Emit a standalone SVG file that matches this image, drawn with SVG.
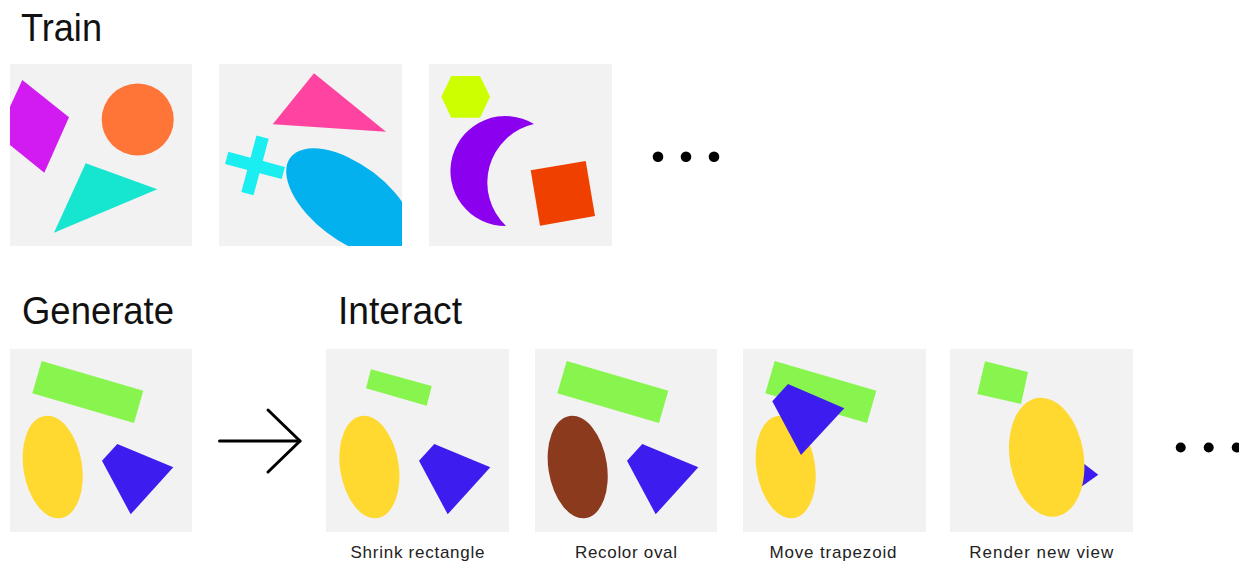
<svg xmlns="http://www.w3.org/2000/svg" width="1239" height="562" viewBox="0 0 1239 562">
<style>
.bg{fill:#F2F2F2}
.title{font-family:"Liberation Sans",Arial,sans-serif;font-size:38px;fill:#111}
.lbl{font-family:"Liberation Sans",Arial,sans-serif;font-size:17px;fill:#222;text-anchor:middle}
.green{fill:#88F54F}
.yellow{fill:#FFD830}
.blue{fill:#3D1CF0}
.dot{fill:#000}
</style>
<defs>
<clipPath id="c2"><rect x="219" y="64" width="183" height="182"/></clipPath>
<clipPath id="c1"><rect x="10" y="64" width="182" height="182"/></clipPath>
</defs>
<rect width="1239" height="562" fill="#fff"/>

<text class="title" x="21" y="41" textLength="81" lengthAdjust="spacingAndGlyphs">Train</text>
<text class="title" x="22" y="323.5" textLength="152" lengthAdjust="spacingAndGlyphs">Generate</text>
<text class="title" x="338" y="323.5" textLength="124" lengthAdjust="spacingAndGlyphs">Interact</text>

<g id="train1">
<rect class="bg" x="10" y="64" width="182" height="182"/>
<g clip-path="url(#c1)">
<polygon points="22.3,80 69,117.3 44.3,172.7 10,145 10,106.7" fill="#D21BF0"/>
<circle cx="137.7" cy="119.5" r="36" fill="#FF7538"/>
<polygon points="85.7,163.3 157.3,189.3 54,232.7" fill="#16E6D0"/>
</g>
</g>

<g id="train2">
<rect class="bg" x="219" y="64" width="183" height="182"/>
<g clip-path="url(#c2)">
<polygon points="314,73.3 386,131.7 272.7,124.3" fill="#FF43A1"/>
<g transform="translate(255,165.4) rotate(15)" fill="#1AEEF0">
<rect x="-6.3" y="-29.3" width="12.6" height="58.6"/>
<rect x="-29.3" y="-6.3" width="58.6" height="12.6"/>
</g>
<ellipse cx="350.3" cy="202.7" rx="75" ry="38" transform="rotate(37 350.3 202.7)" fill="#03B1EE"/>
</g>
</g>

<g id="train3">
<rect class="bg" x="429" y="64" width="183" height="182"/>
<polygon points="451.3,76 480,76 490,96.7 480,117.7 451.3,117.7 441.3,96.7" fill="#CCFF00"/>
<path d="M534,124 A55,55 0 1 0 506,226 A60,60 0 0 1 534,124 Z" fill="#8B00EE"/>
<polygon points="530.7,170.3 585.7,161 595,216 540,225.7" fill="#F04000"/>
</g>

<g id="trainDots">
<circle class="dot" cx="658" cy="156.7" r="5.3"/>
<circle class="dot" cx="686" cy="156.7" r="5.3"/>
<circle class="dot" cx="714" cy="156.7" r="5.3"/>
</g>

<g id="generate">
<rect class="bg" x="10" y="349" width="182" height="183"/>
<polygon class="green" points="41.7,361 143.3,390.7 134,423 32.3,393.3"/>
<ellipse class="yellow" cx="52.7" cy="467" rx="29.3" ry="51.7" transform="rotate(-9 52.7 467)"/>
<polygon class="blue" points="117.3,444 173.3,467.3 130.7,514.3 102,460.7"/>
</g>

<g id="connectors" fill="none" stroke="#000" stroke-width="3" stroke-linecap="round" stroke-linejoin="round">
<line x1="219.5" y1="441" x2="300" y2="441"/>
<polyline points="268,410 300,441 268,472"/>
</g>

<g id="shrink">
<rect class="bg" x="326" y="349" width="183" height="183"/>
<polygon class="green" points="371,369.3 431.7,386 426.7,405.7 366,388.3"/>
<ellipse class="yellow" cx="369.4" cy="467" rx="29.3" ry="51.7" transform="rotate(-9 369.4 467)"/>
<polygon class="blue" points="434.3,444 490.3,467.3 447.7,514.3 419,460.7"/>
<text class="lbl" x="417.5" y="557.5" textLength="134" lengthAdjust="spacing">Shrink rectangle</text>
</g>

<g id="recolor">
<rect class="bg" x="535" y="349" width="182" height="183"/>
<polygon class="green" points="566.7,361 668.3,390.7 659,423 557.3,393.3"/>
<ellipse cx="577.7" cy="467" rx="29.3" ry="51.7" transform="rotate(-9 577.7 467)" fill="#8B3A1E"/>
<polygon class="blue" points="642.3,444 698.3,467.3 655.7,514.3 627,460.7"/>
<text class="lbl" x="626" y="557.5" textLength="102" lengthAdjust="spacing">Recolor oval</text>
</g>

<g id="move">
<rect class="bg" x="743" y="349" width="183" height="183"/>
<polygon class="green" points="774.7,361 876.3,390.7 867,423 765.3,393.3"/>
<ellipse class="yellow" cx="785.7" cy="467" rx="29.3" ry="51.7" transform="rotate(-9 785.7 467)"/>
<polygon class="blue" points="788,384 844.3,408.3 801,455 772.3,401.3"/>
<text class="lbl" x="833" y="557.5" textLength="127" lengthAdjust="spacing">Move trapezoid</text>
</g>

<g id="render">
<rect class="bg" x="950" y="349" width="183" height="183"/>
<polygon class="green" points="985,361.3 1028,372 1021,404 977.3,394"/>
<polygon class="blue" points="1098.3,474.7 1065,449.3 1065,498.2"/>
<ellipse class="yellow" cx="1046.7" cy="457.2" rx="37" ry="60" transform="rotate(-9 1046.7 457.2)"/>
<text class="lbl" x="1041.3" y="557.5" textLength="144" lengthAdjust="spacing">Render new view</text>
</g>

<g id="interactDots">
<circle class="dot" cx="1180.7" cy="447.5" r="5"/>
<circle class="dot" cx="1208.7" cy="447.5" r="5"/>
<circle class="dot" cx="1236.7" cy="447.5" r="5"/>
</g>
</svg>
